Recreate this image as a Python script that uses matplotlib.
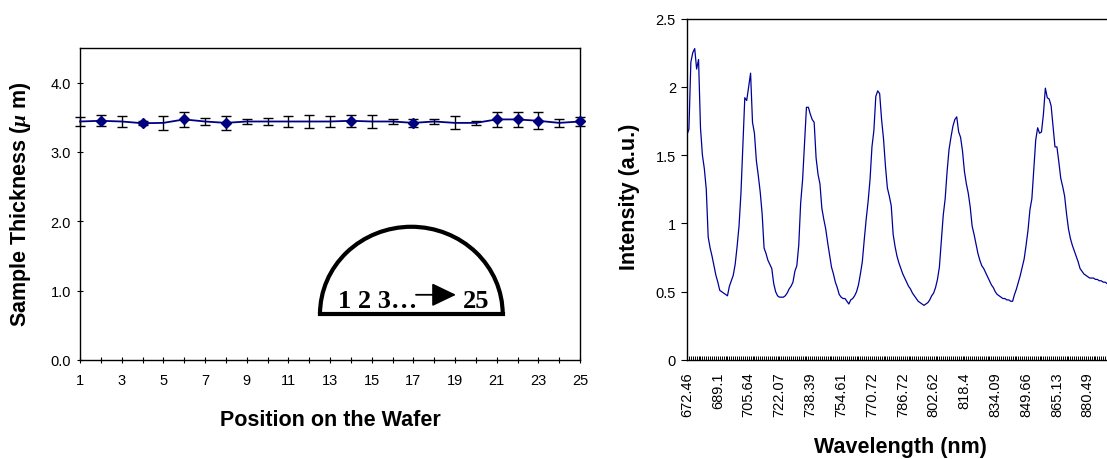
import matplotlib
matplotlib.use("Agg")
import matplotlib.pyplot as plt
import numpy as np
from matplotlib.patches import Arc

plt.rcParams["font.family"] = ["Liberation Sans", "DejaVu Sans"]
plt.rcParams["mathtext.fontset"] = "custom"
plt.rcParams["mathtext.it"] = "Liberation Serif:italic:bold"
plt.rcParams["mathtext.rm"] = "Liberation Sans:bold"

# wafer thickness profile
positions = np.arange(1, 26)
thickness = [3.44, 3.45, 3.44, 3.415, 3.42, 3.47, 3.44, 3.42, 3.44, 3.44,
             3.44, 3.44, 3.44, 3.45, 3.44, 3.44, 3.42, 3.44, 3.42, 3.42,
             3.47, 3.47, 3.45, 3.42, 3.44]
thickness_err = [0.067, 0.077, 0.08, 0.03, 0.10, 0.11, 0.045, 0.10, 0.04, 0.05,
                 0.08, 0.09, 0.08, 0.09, 0.10, 0.04, 0.06, 0.04, 0.095, 0.03,
                 0.11, 0.11, 0.12, 0.06, 0.06]
marked_positions = [2, 4, 6, 8, 14, 17, 21, 22, 23, 25]

# transmission spectrum, one value per detector channel
wavelength_labels = ["672.46", "689.1", "705.64", "722.07", "738.39", "754.61",
                     "770.72", "786.72", "802.62", "818.4", "834.09", "849.66",
                     "865.13", "880.49"]
channels_per_label = 16
intensity = [
    1.65, 1.69, 2.18, 2.25, 2.28, 2.13, 2.20, 1.70, 1.50, 1.40, 1.25, 0.90, 0.82, 0.76, 0.69, 0.62,
    0.57, 0.51, 0.50, 0.49, 0.48, 0.47, 0.54, 0.58, 0.62, 0.70, 0.83, 0.98, 1.22, 1.57, 1.92, 1.90,
    2.00, 2.10, 1.74, 1.66, 1.46, 1.35, 1.23, 1.07, 0.82, 0.78, 0.73, 0.70, 0.67, 0.56, 0.50, 0.47,
    0.46, 0.46, 0.46, 0.47, 0.49, 0.52, 0.54, 0.57, 0.65, 0.69, 0.84, 1.15, 1.32, 1.59, 1.85, 1.85,
    1.80, 1.76, 1.74, 1.48, 1.36, 1.29, 1.11, 1.03, 0.96, 0.86, 0.77, 0.68, 0.63, 0.57, 0.53, 0.48,
    0.46, 0.45, 0.45, 0.43, 0.41, 0.44, 0.45, 0.47, 0.50, 0.55, 0.63, 0.72, 0.88, 1.03, 1.16, 1.32,
    1.56, 1.68, 1.93, 1.97, 1.95, 1.76, 1.62, 1.42, 1.26, 1.20, 1.13, 0.92, 0.83, 0.76, 0.71, 0.67,
    0.63, 0.60, 0.57, 0.54, 0.52, 0.49, 0.47, 0.45, 0.43, 0.42, 0.41, 0.40, 0.41, 0.42, 0.44, 0.47,
    0.49, 0.53, 0.59, 0.68, 0.87, 1.06, 1.18, 1.38, 1.54, 1.63, 1.71, 1.76, 1.78, 1.67, 1.63, 1.53,
    1.38, 1.29, 1.22, 1.12, 0.98, 0.92, 0.85, 0.78, 0.73, 0.69, 0.67, 0.64, 0.61, 0.58, 0.55, 0.53,
    0.50, 0.48, 0.47, 0.46, 0.45, 0.45, 0.44, 0.44, 0.43, 0.43, 0.48, 0.52, 0.57, 0.62, 0.68, 0.74,
    0.84, 0.95, 1.10, 1.18, 1.40, 1.61, 1.70, 1.66, 1.67, 1.80, 1.99, 1.92, 1.91, 1.86, 1.71, 1.56,
    1.56, 1.45, 1.33, 1.27, 1.20, 1.07, 0.96, 0.89, 0.84, 0.80, 0.76, 0.72, 0.67, 0.65, 0.63, 0.62,
    0.61, 0.60, 0.60, 0.60, 0.59, 0.59, 0.58, 0.58, 0.57, 0.57, 0.56,
]

W, H = 1107, 460
fig = plt.figure(figsize=(W / 100, H / 100), dpi=100)


def px_axes(left, top, right, bottom):
    return fig.add_axes([left / W, 1 - bottom / H, (right - left) / W, (bottom - top) / H])


# ---- left panel: thickness across the wafer ----
ax1 = px_axes(80, 49, 580, 361)
ax1.errorbar(positions, thickness, yerr=thickness_err, fmt="none", ecolor="black",
             elinewidth=1.0, capsize=3.3, capthick=1.0, clip_on=False, zorder=3)
ax1.plot(positions, thickness, color="#000080", lw=1.3, marker="D", ms=4.6,
         markevery=[p - 1 for p in marked_positions], clip_on=False, zorder=4)
ax1.set_xlim(1, 25)
ax1.set_ylim(0, 4.5)
ax1.set_xticks(positions)
ax1.set_xticklabels([str(p) if p % 2 else "" for p in positions])
ax1.set_yticks([0, 1, 2, 3, 4])
ax1.set_yticklabels(["0.0", "1.0", "2.0", "3.0", "4.0"])
ax1.tick_params(axis="x", direction="inout", length=5, width=0.8, pad=7, labelsize=10.5)
ax1.tick_params(axis="y", direction="inout", length=5, width=0.8, pad=4, labelsize=10.5)
for s in ax1.spines.values():
    s.set_linewidth(1.0)

# wafer sketch with the measurement order
ax1.add_patch(Arc((0.6627, 0.147), 0.3654, 0.560, theta1=0, theta2=180,
                  transform=ax1.transAxes, lw=3, color="black", clip_on=False))
ax1.plot([0.480, 0.845], [0.147, 0.147], transform=ax1.transAxes, color="black",
         lw=3, solid_capstyle="projecting")
ax1.text(0.516, 0.171, "1 2 3…", transform=ax1.transAxes, family="Liberation Serif",
         fontweight="bold", fontsize=19, va="baseline", ha="left")
ax1.text(0.766, 0.171, "25", transform=ax1.transAxes, family="Liberation Serif",
         fontweight="bold", fontsize=19, va="baseline", ha="left")
ax1.annotate("", xy=(0.752, 0.209), xytext=(0.672, 0.209), xycoords="axes fraction",
             arrowprops=dict(arrowstyle="-|>,head_length=0.75,head_width=0.36",
                             mutation_scale=20, lw=1.3, color="black", shrinkA=0, shrinkB=0))

fig.text(21 / W, 1 - 204 / H, r"Sample Thickness ($\mu$ m)", rotation=90,
         ha="center", va="center", fontsize=15.5, fontweight="bold")
fig.text(330 / W, 1 - 421 / H, "Position on the Wafer", ha="center", va="center",
         fontsize=15.5, fontweight="bold")

# ---- right panel: spectrum ----
ax2 = px_axes(687, 19.5, 1107, 361)
channels = np.arange(len(intensity))
ax2.plot(channels, intensity, color="#000099", lw=0.9)
ax2.set_xlim(0, 218)
ax2.set_ylim(0, 2.5)
ax2.set_yticks([0, 0.5, 1, 1.5, 2, 2.5])
ax2.set_yticklabels(["0", "0.5", "1", "1.5", "2", "2.5"])
ax2.set_xticks(channels, minor=True)
label_idx = np.arange(len(wavelength_labels)) * channels_per_label
ax2.set_xticks(label_idx)
ax2.set_xticklabels(wavelength_labels, rotation=90)
ax2.tick_params(axis="x", which="both", direction="in", length=3, width=0.7, pad=8,
                labelsize=10.5)
ax2.tick_params(axis="y", direction="out", length=4, width=0.8, pad=4, labelsize=10.5)
ax2.spines["right"].set_visible(False)
for s in ax2.spines.values():
    s.set_linewidth(1.0)

fig.text(629.5 / W, 1 - 197 / H, "Intensity (a.u.)", rotation=90, ha="center",
         va="center", fontsize=15.5, fontweight="bold")
fig.text(900 / W, 1 - 448 / H, "Wavelength (nm)", ha="center", va="center",
         fontsize=15.5, fontweight="bold")

fig.savefig("out.png", dpi=100)
